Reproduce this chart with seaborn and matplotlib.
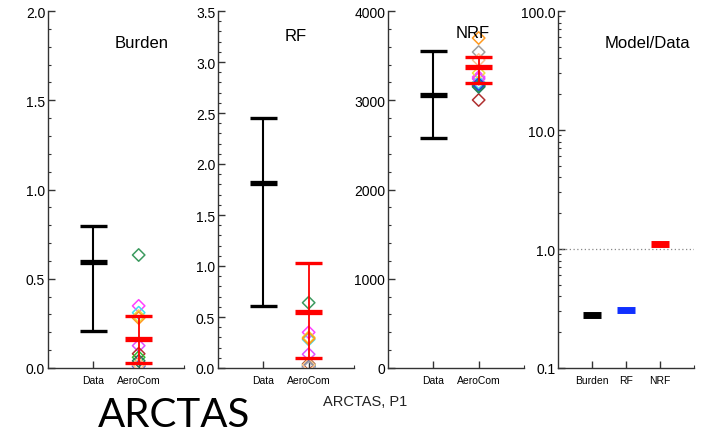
import numpy as np
import pandas as pd
import matplotlib
matplotlib.use("Agg")
import matplotlib.pyplot as plt
import seaborn as sns
from matplotlib.ticker import MultipleLocator, FormatStrFormatter, LogLocator, FixedLocator

sns.set_theme(style="white")
plt.rcParams['font.family'] = ['Liberation Sans', 'DejaVu Sans']
plt.rcParams['text.color'] = 'black'

# ---------------- data ----------------
panels = ["Burden", "RF", "NRF"]
categories = ["Data", "AeroCom"]

# observations: low, mean, high
data_low = [0.207, 0.61, 2577]
data_mean = [0.593, 1.81, 3059]
data_high = [0.795, 2.45, 3552]

# AeroCom ensemble: low, mean, high
aero_low = [0.028, 0.10, 3193]
aero_mean = [0.162, 0.55, 3373]
aero_high = [0.291, 1.03, 3485]

# individual models
model_colors = ["#3c9a5f", "#ff40ff", "#40e0f0", "#ece040", "#e050ff", "#b03030",
                "#30c030", "#208060", "#2040e0", "#ff9a20", "#a0a0a0", "#ffc090"]
model_burden = [0.633, 0.348, 0.31, 0.29, 0.125, 0.08, 0.06, 0.04, 0.01, 0.28, 0.015, 0.02]
model_rf = [0.64, 0.35, 0.28, 0.30, 0.135, 0.04, 0.03, 0.02, 0.01, 0.29, 0.005, 0.03]
model_nrf = [3160, 3260, 3200, 3305, 3240, 3003, 3170, 3150, 3180, 3697, 3540, 3451]

ratio_labels = ["Burden", "RF", "NRF"]
ratio_values = [0.279, 0.307, 1.10]
ratio_colors = ["black", "#1030ff", "red"]

ylims = [(0, 2.0), (0, 3.5), (0, 4000)]
ymajor = [0.5, 0.5, 1000]
yminor = [0.1, 0.1, 200]
yfmt = ["%.1f", "%.1f", "%d"]
title_pos = [(0.69, 0.913), (0.57, 0.93), (0.625, 0.941)]

# ---------------- figure ----------------
W, H = 704, 435
fig = plt.figure(figsize=(W / 100, H / 100), dpi=100)
fig.patch.set_facecolor("white")

ax_left = [48, 218, 388, 558]
ax_w, ax_top, ax_bot = 136, 12, 369


def make_ax(x0):
    return fig.add_axes([x0 / W, (H - ax_bot) / H, ax_w / W, (ax_bot - ax_top) / H])


def style(ax):
    ax.set_facecolor("white")
    for s in ["top", "right"]:
        ax.spines[s].set_visible(False)
    for s in ["left", "bottom"]:
        ax.spines[s].set_color("#333333")
        ax.spines[s].set_linewidth(1.0)
    ax.tick_params(axis="both", which="both", direction="in", colors="#333333",
                   top=False, right=False, left=True, bottom=True)
    ax.tick_params(axis="both", which="major", length=5, width=1.0)
    ax.tick_params(axis="both", which="minor", length=2.5, width=0.8)
    ax.tick_params(axis="y", labelsize=10, labelcolor="black", pad=2)
    ax.tick_params(axis="x", labelsize=7.5, labelcolor="black", pad=5)
    ax.grid(False)


model_series = [model_burden, model_rf, model_nrf]

for i in range(3):
    ax = make_ax(ax_left[i])
    style(ax)
    # observation bar
    ax.vlines(1, data_low[i], data_high[i], color="black", lw=1.5)
    ax.hlines([data_low[i], data_high[i]], 0.7, 1.3, color="black", lw=2.4)
    ax.hlines(data_mean[i], 0.7, 1.3, color="black", lw=3.8)
    # models
    df = pd.DataFrame({"x": [2] * len(model_colors), "y": model_series[i],
                       "model": [f"m{k}" for k in range(len(model_colors))]})
    pal = {f"m{k}": c for k, c in enumerate(model_colors)}
    sns.scatterplot(data=df, x="x", y="y", hue="model", palette=pal, marker="D",
                    s=40, legend=False, ax=ax, zorder=3)
    coll = ax.collections[-1]
    fc = coll.get_facecolors()
    coll.set_edgecolors(fc)
    coll.set_facecolors("none")
    coll.set_linewidths(1.1)
    # AeroCom bar
    ax.vlines(2, aero_low[i], aero_high[i], color="red", lw=1.3, zorder=4)
    ax.hlines([aero_low[i], aero_high[i]], 1.7, 2.3, color="red", lw=2.4, zorder=4)
    ax.hlines(aero_mean[i], 1.7, 2.3, color="red", lw=3.8, zorder=4)

    ax.set_xlim(0, 3)
    ax.set_ylim(*ylims[i])
    ax.set_xticks([1, 2])
    ax.set_xticklabels(categories)
    ax.xaxis.set_minor_locator(FixedLocator([3]))
    ax.yaxis.set_major_locator(MultipleLocator(ymajor[i]))
    ax.yaxis.set_minor_locator(MultipleLocator(yminor[i]))
    ax.yaxis.set_major_formatter(FormatStrFormatter(yfmt[i]))
    ax.set_xlabel("")
    ax.set_ylabel("")
    ax.text(*title_pos[i], panels[i], transform=ax.transAxes, ha="center",
            va="center", fontsize=12, color="black")

# ratio panel
ax = make_ax(ax_left[3])
style(ax)
ax.set_yscale("log")
ax.set_xlim(0, 4)
ax.set_ylim(0.1, 100)
ax.axhline(1.0, color="#888888", lw=0.9, ls=(0, (1, 2)))
rdf = pd.DataFrame({"x": [1, 2, 3], "y": ratio_values, "lab": ratio_labels})
for k in range(len(ratio_values)):
    ax.hlines(rdf["y"][k], rdf["x"][k] - 0.27, rdf["x"][k] + 0.27,
              color=ratio_colors[k], lw=5.0)
ax.set_xticks([1, 2, 3])
ax.set_xticklabels(ratio_labels)
ax.xaxis.set_minor_locator(FixedLocator([4]))
ax.yaxis.set_major_locator(LogLocator(base=10, numticks=10))
ax.yaxis.set_minor_locator(LogLocator(base=10, subs=np.arange(2, 10), numticks=10))
ax.yaxis.set_major_formatter(FormatStrFormatter("%.1f"))
ax.yaxis.set_minor_formatter(plt.NullFormatter())
ax.text(0.654, 0.913, "Model/Data", transform=ax.transAxes, ha="center",
        va="center", fontsize=12, color="black")

# bottom texts
fig.text(365 / W, 1 - 402 / H, "ARCTAS, P1", ha="center", va="center",
         fontsize=10.5, color="#222222")
fig.text(174 / W, 1 - 416 / H, "ARCTAS", ha="center", va="center", fontsize=29,
         color="black", family=["Lato", "DejaVu Sans"])

fig.savefig("out.png", dpi=100, facecolor="white")
